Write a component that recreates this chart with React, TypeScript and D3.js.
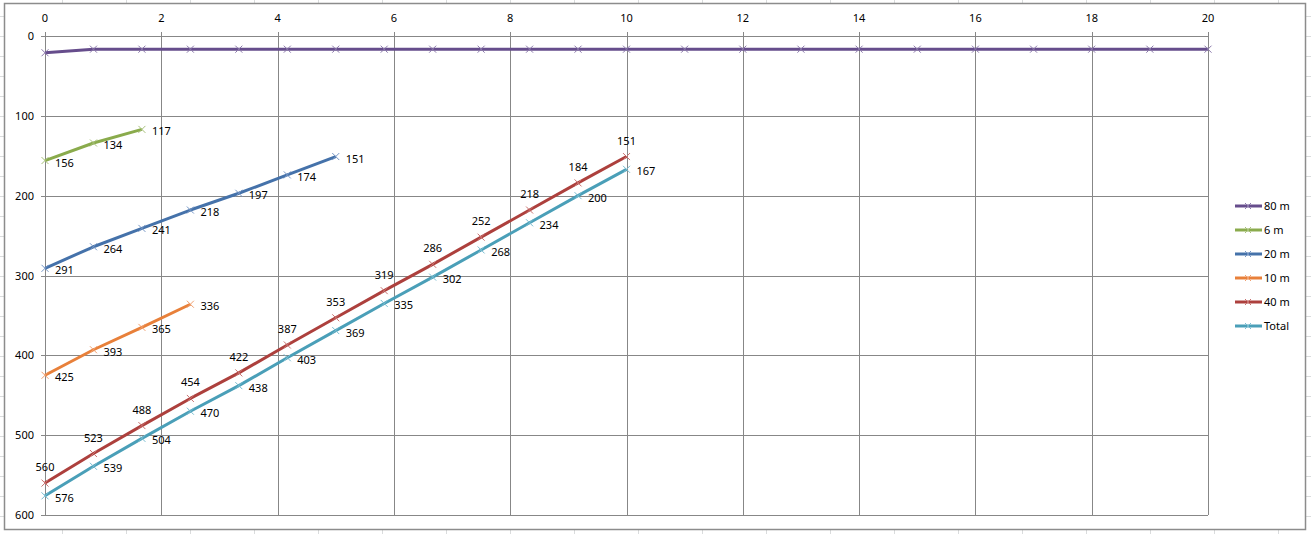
import React from "react";
import * as d3 from "d3";

const step = 5 / 6;
const seriesNames = ["80 m", "6 m", "20 m", "10 m", "40 m", "Total"];
const x80 = [0, 5 / 6, 10 / 6, 15 / 6, 20 / 6, 25 / 6, 30 / 6, 35 / 6, 40 / 6, 45 / 6, 50 / 6, 55 / 6, 10, 11, 12, 13, 14, 15, 16, 17, 18, 19, 20];
const v80 = [21, 16.5, 16.5, 16.5, 16.5, 16.5, 16.5, 16.5, 16.5, 16.5, 16.5, 16.5, 16.5, 16.5, 16.5, 16.5, 16.5, 16.5, 16.5, 16.5, 16.5, 16.5, 16.5];
const v6 = [156, 134, 117];
const v20 = [291, 264, 241, 218, 197, 174, 151];
const v10 = [425, 393, 365, 336];
const v40 = [560, 523, 488, 454, 422, 387, 353, 319, 286, 252, 218, 184, 151];
const vTotal = [576, 539, 504, 470, 438, 403, 369, 335, 302, 268, 234, 200, 167];
const xTicks = [0, 2, 4, 6, 8, 10, 12, 14, 16, 18, 20];
const yTicks = [0, 100, 200, 300, 400, 500, 600];

const colors = ["#664d8c", "#8aab4c", "#4572aa", "#e8803a", "#ad403d", "#4a9fb8"];
const markerColors = ["#8a78aa", "#a6c07a", "#7595c4", "#f0a070", "#c87270", "#78bcd0"];
const values = [v80, v6, v20, v10, v40, vTotal];
const labelled = [false, true, true, true, true, true];
const labelAbove = [false, false, false, false, true, false];

const W = 1311, H = 534;
const font = "'Noto Sans', 'DejaVu Sans', sans-serif";

export default function App() {
  const x = d3.scaleLinear().domain([0, 20]).range([45, 1208]);
  const y = d3.scaleLinear().domain([0, 600]).range([36, 515]);
  const line = d3.line<[number, number]>().x(d => x(d[0])).y(d => y(d[1]));
  const grid = "#878787";
  const cols = d3.range(62, W, 64);
  const rows = d3.range(16, H, 20);
  return (
    <svg width={W} height={H} style={{ position: "absolute", left: 0, top: 0, background: "#fff" }}>
      <rect x={0} y={0} width={W} height={H} fill="#fff" />
      {cols.map(c => (
        <g key={"c" + c}>
          <line x1={c + 0.5} x2={c + 0.5} y1={0} y2={3} stroke="#dadcdd" />
          <line x1={c + 0.5} x2={c + 0.5} y1={530} y2={H} stroke="#dadcdd" />
        </g>
      ))}
      {rows.map(r => (
        <g key={"r" + r}>
          <line x1={0} x2={4} y1={r + 0.5} y2={r + 0.5} stroke="#dadcdd" />
          <line x1={1306} x2={W} y1={r + 0.5} y2={r + 0.5} stroke="#dadcdd" />
        </g>
      ))}
      <rect x={4.5} y={3.5} width={1301} height={526} fill="#fff" stroke="#8c8c8c" strokeWidth={1.5} />
      {xTicks.map(t => (
        <line key={"gx" + t} x1={Math.round(x(t)) + 0.5} x2={Math.round(x(t)) + 0.5} y1={32} y2={515} stroke={grid} />
      ))}
      {yTicks.map(t => (
        <line key={"gy" + t} x1={41} x2={1208} y1={Math.round(y(t)) + 0.5} y2={Math.round(y(t)) + 0.5} stroke={grid} />
      ))}
      {xTicks.map(t => (
        <text key={"tx" + t} x={x(t)} y={22} textAnchor="middle" fontFamily={font} fontSize={11} fill="#000">{t}</text>
      ))}
      {yTicks.map(t => (
        <text key={"ty" + t} x={34} y={y(t) + 4} textAnchor="end" fontFamily={font} fontSize={11} fill="#000">{t}</text>
      ))}
      {values.map((vals, si) => {
        const pts: [number, number][] = vals.map((v, i) => [si === 0 ? x80[i] : i * step, v]);
        return (
          <g key={"s" + si}>
            <path d={line(pts) || ""} fill="none" stroke={colors[si]} strokeWidth={3} strokeLinejoin="round" />
            {pts.map((p, i) => {
              const cx = x(p[0]), cy = y(p[1]);
              return (
                <g key={i} stroke={markerColors[si]} strokeWidth={1}>
                  <line x1={cx - 3.5} y1={cy - 3.5} x2={cx + 3.5} y2={cy + 3.5} />
                  <line x1={cx - 3.5} y1={cy + 3.5} x2={cx + 3.5} y2={cy - 3.5} />
                </g>
              );
            })}
            {labelled[si] && pts.map((p, i) => {
              const cx = x(p[0]), cy = y(p[1]);
              return labelAbove[si] ? (
                <text key={"l" + i} x={cx} y={cy - 12} textAnchor="middle" fontFamily={font} fontSize={11} fill="#000">{p[1]}</text>
              ) : (
                <text key={"l" + i} x={cx + 10} y={cy + 6} fontFamily={font} fontSize={11} fill="#000">{p[1]}</text>
              );
            })}
          </g>
        );
      })}
      {seriesNames.map((n, i) => {
        const ly = 206 + i * 24;
        return (
          <g key={"lg" + i}>
            <line x1={1235} x2={1262} y1={ly} y2={ly} stroke={colors[i]} strokeWidth={3} />
            <g stroke={markerColors[i]} strokeWidth={1}>
              <line x1={1245} y1={ly - 3} x2={1251} y2={ly + 3} />
              <line x1={1245} y1={ly + 3} x2={1251} y2={ly - 3} />
            </g>
            <text x={1264} y={ly + 4} fontFamily={font} fontSize={11} fill="#000">{n}</text>
          </g>
        );
      })}
    </svg>
  );
}
